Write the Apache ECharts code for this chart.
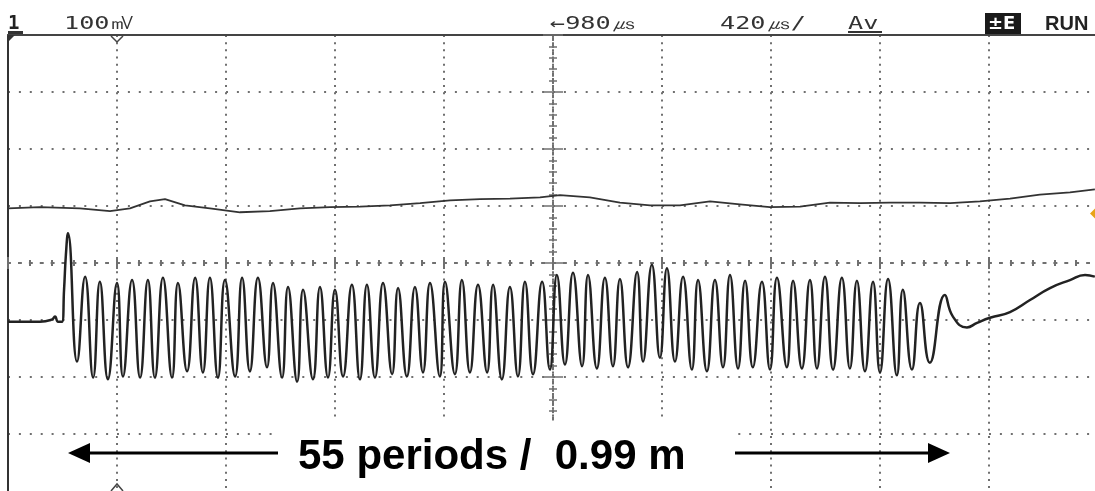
<!DOCTYPE html>
<html><head><meta charset="utf-8">
<script src="https://cdn.jsdelivr.net/npm/echarts@6/dist/echarts.min.js"></script>
<style>html,body{margin:0;padding:0;background:#fff;}#c{width:1095px;height:491px;}</style>
</head><body><div id="c"></div>
<script>
// ---- header / annotation texts ----
const channelLabel = '1';
const voltScaleLabel = '100㎷';
const delayLabel = '←980㎲';
const timebaseLabel = '420㎲/';
const modeLabel = 'Av';
const trigLabel = '±E';
const statusLabel = 'RUN';
const annotationLabel = '55 periods /  0.99 m';

// ---- axes: time in µs (420 µs/div, 10 div), voltage in mV (100 mV/div, 8 div) ----
const timeMin = 0, timeMax = 4200, timeDiv = 420;
const voltMin = -400, voltMax = 400, voltDiv = 100;
const triggerTime = 420;
const ch2LevelMark = 87;

// ---- channel 1 (lower trace): time µs / value mV ----
const ch1PreTime  = [0, 123, 170, 181, 193, 208, 216, 223, 231];
const ch1PreValue = [-103, -103, -99, -94, -103, -103, -47, 14, 52];
const ch1OscTime = [
  266,297,328,354,385,420,443,478,509,539,
  566,597,632,655,690,721,751,778,809,836,
  875,902,932,963,998,1021,1056,1079,1114,1137,
  1175,1202,1233,1260,1291,1325,1356,1383,1414,1445,
  1480,1503,1537,1568,1599,1626,1664,1684,1722,1749,
  1780,1811,1846,1869,1903,1934,1965,1992,2023,2058,
  2088,2115,2146,2177,2212,2235,2269,2300,2331,2358,
  2389,2424,2447,2481,2512,2539,2570,2601,2635,2659,
  2693,2724,2755,2782,2813,2840,2870,2905,2936,2963,
  3001,3025,3059,3090,3117,3148,3179,3213,3244,3271,
  3302,3333,3360,3391,3425,3448,3483,3514,3552,3610];
const ch1OscValue = [
  -173,-24,-201,-33,-204,-35,-199,-30,-201,-30,
  -201,-26,-201,-35,-190,-26,-192,-26,-201,-30,
  -199,-26,-190,-26,-183,-35,-201,-42,-208,-47,
  -204,-42,-201,-47,-199,-38,-204,-38,-201,-35,
  -195,-44,-199,-42,-192,-35,-199,-33,-195,-30,
  -192,-38,-192,-38,-204,-42,-199,-33,-195,-33,
  -187,-21,-178,-17,-181,-21,-185,-26,-181,-28,
  -183,-16,-173,-3,-166,-9,-173,-24,-187,-30,
  -190,-30,-183,-21,-185,-31,-183,-33,-187,-26,
  -183,-31,-185,-30,-185,-24,-187,-26,-185,-31,
  -190,-33,-192,-28,-197,-47,-187,-70,-175,-56];
const ch1TailTime  = [3641, 3695, 3734, 3784, 3861, 3938, 4015, 4092, 4150, 4188];
const ch1TailValue = [-94, -113, -105, -96, -86, -65, -44, -30, -21, -24];

// ---- channel 2 (upper trace) ----
const ch2Time = [0,123,277,393,470,547,605,682,778,894,1009,1125,1241,1356,1472,1588,1703,1819,1934,2050,
  2127,2242,2358,2474,2589,2705,2820,2936,3052,3167,3283,3398,3514,3630,3745,3861,3976,4092,4188];
const ch2Value = [96,98,96,91,96,108,112,101,96,89,91,96,98,99,101,105,110,112,113,115,
  119,115,106,101,101,108,103,98,99,106,105,106,106,105,108,113,120,124,129];

const zip = (a, b) => a.map((t, i) => [t, b[i]]);
const ch1Data = zip(ch1PreTime, ch1PreValue).concat(zip(ch1OscTime, ch1OscValue), zip(ch1TailTime, ch1TailValue));
const ch2Data = zip(ch2Time, ch2Value);

const gridColor = '#707070';
const dotsV = [2, 5.16];
const dotsH = [2, 8.9];
const noLbl = {show: false};

const chart = echarts.init(document.getElementById('c'), null, {renderer: 'canvas'});
const baseX = {type: 'value', min: timeMin, max: timeMax, interval: timeDiv, axisLabel: noLbl, splitLine: {show: false}, axisTick: {show: false}};
const baseY = {type: 'value', min: voltMin, max: voltMax, interval: voltDiv, axisLabel: noLbl, splitLine: {show: false}, axisTick: {show: false}};

const option = {
  animation: false,
  backgroundColor: '#ffffff',
  grid: {left: 8, top: 35, width: 1090, height: 456, containLabel: false, outerBoundsMode: 'none'},
  xAxis: [
    Object.assign({}, baseX, {position: 'bottom', axisLine: {onZero: false, lineStyle: {color: '#b0b0b0', width: 1}},
      splitLine: {show: true, showMinLine: false, showMaxLine: false, lineStyle: {color: gridColor, width: 2, type: dotsV}}}),
    Object.assign({}, baseX, {position: 'top', axisLine: {onZero: false, lineStyle: {color: '#444', width: 2}}}),
    Object.assign({}, baseX, {position: 'bottom', axisLine: {onZero: true, onZeroAxisIndex: 0, lineStyle: {color: gridColor, width: 2, type: dotsH}},
      axisTick: {show: true, length: 6, lineStyle: {color: gridColor, width: 2}},
      minorTick: {show: true, splitNumber: 5, length: 3, lineStyle: {color: gridColor, width: 2}}}),
    Object.assign({}, baseX, {position: 'top', axisLine: {onZero: true, onZeroAxisIndex: 0, lineStyle: {color: gridColor, width: 2, type: dotsH}},
      axisTick: {show: true, length: 6, lineStyle: {color: gridColor, width: 2}},
      minorTick: {show: true, splitNumber: 5, length: 3, lineStyle: {color: gridColor, width: 2}}}),
    {type: 'value', min: -(timeMax - timeMin) / 2, max: (timeMax - timeMin) / 2, show: false, splitLine: {show: false}}
  ],
  yAxis: [
    Object.assign({}, baseY, {position: 'left', axisLine: {onZero: false, lineStyle: {color: '#333', width: 2}},
      splitLine: {show: true, showMinLine: false, showMaxLine: false, lineStyle: {color: gridColor, width: 2, type: dotsH}}}),
    Object.assign({}, baseY, {position: 'left', axisLine: {onZero: true, onZeroAxisIndex: 4, lineStyle: {color: gridColor, width: 2, type: dotsV}},
      axisTick: {show: true, length: 10, lineStyle: {color: gridColor, width: 1.5}},
      minorTick: {show: true, splitNumber: 5, length: 4, lineStyle: {color: gridColor, width: 1.5}}}),
    Object.assign({}, baseY, {position: 'right', axisLine: {onZero: true, onZeroAxisIndex: 4, lineStyle: {color: gridColor, width: 2, type: dotsV}},
      axisTick: {show: true, length: 10, lineStyle: {color: gridColor, width: 1.5}},
      minorTick: {show: true, splitNumber: 5, length: 4, lineStyle: {color: gridColor, width: 1.5}}})
  ],
  series: [
    {type: 'line', name: 'CH1', xAxisIndex: 0, yAxisIndex: 0, data: ch1Data, symbol: 'none', smooth: 0.5,
      lineStyle: {color: '#222222', width: 2.5}, z: 5},
    {type: 'line', name: 'CH2', xAxisIndex: 0, yAxisIndex: 0, data: ch2Data, symbol: 'none', smooth: false,
      lineStyle: {color: '#333333', width: 1.8}, z: 5}
  ]
};
chart.setOption(option);

const hdrFont = '18px "DejaVu Sans Mono"';
const trigPx = chart.convertToPixel({xAxisIndex: 0}, triggerTime);
const ch2MarkPy = chart.convertToPixel({yAxisIndex: 0}, ch2LevelMark);
const rightPx = chart.convertToPixel({xAxisIndex: 0}, timeMax) - 3;

chart.setOption({
  graphic: [
    // header
    {type: 'text', x: 8, y: 24, z: 20, style: {text: channelLabel, font: 'bold 19px "DejaVu Sans Mono"', fill: '#222', verticalAlign: 'middle'}},
    {type: 'rect', x: 8, y: 31, z: 20, shape: {width: 15, height: 3}, style: {fill: '#333'}},
    {type: 'text', x: 64, y: 24, scaleX: 1.4, z: 20, style: {text: voltScaleLabel, font: hdrFont, fill: '#333', verticalAlign: 'middle'}},
    {type: 'text', x: 550, y: 24, scaleX: 1.4, z: 20, style: {text: delayLabel, font: hdrFont, fill: '#333', verticalAlign: 'middle'}},
    {type: 'text', x: 720, y: 24, scaleX: 1.4, z: 20, style: {text: timebaseLabel, font: hdrFont, fill: '#333', verticalAlign: 'middle'}},
    {type: 'text', x: 848, y: 24, scaleX: 1.4, z: 20, style: {text: modeLabel, font: hdrFont, fill: '#333', verticalAlign: 'middle'}},
    {type: 'rect', x: 848, y: 31, z: 20, shape: {width: 34, height: 2}, style: {fill: '#333'}},
    {type: 'rect', x: 985, y: 13, z: 20, shape: {width: 36, height: 21}, style: {fill: '#1a1a1a'}},
    {type: 'text', x: 988, y: 24, z: 21, style: {text: trigLabel, font: 'bold 18px "DejaVu Sans"', fill: '#fff', verticalAlign: 'middle'}},
    {type: 'text', x: 1045, y: 24, z: 20, style: {text: statusLabel, font: 'bold 20px "Liberation Sans"', fill: '#222', verticalAlign: 'middle'}},
    // corner + markers
    {type: 'polygon', z: 20, shape: {points: [[8, 35], [15, 35], [8, 42]]}, style: {fill: '#333'}},
    {type: 'polyline', z: 20, shape: {points: [[trigPx - 6, 36], [trigPx, 42], [trigPx + 6, 36]]}, style: {stroke: '#444', lineWidth: 1.5, fill: null}},
    {type: 'polyline', z: 20, shape: {points: [[trigPx - 6, 491], [trigPx, 484], [trigPx + 6, 491]]}, style: {stroke: '#444', lineWidth: 1.5, fill: null}},
    {type: 'polygon', z: 20, shape: {points: [[rightPx - 5, ch2MarkPy], [rightPx + 1, ch2MarkPy - 6], [rightPx + 7, ch2MarkPy], [rightPx + 1, ch2MarkPy + 6]]}, style: {fill: '#e8a317'}},
    // annotation
    {type: 'rect', x: 274, y: 421, z: 20, shape: {width: 456, height: 70}, style: {fill: '#fff'}},
    {type: 'text', x: 298, y: 457, z: 21, style: {text: annotationLabel, font: 'bold 42px "Liberation Sans"', fill: '#000', verticalAlign: 'middle'}},
    {type: 'line', z: 21, shape: {x1: 86, y1: 453, x2: 278, y2: 453}, style: {stroke: '#000', lineWidth: 3}},
    {type: 'polygon', z: 21, shape: {points: [[68, 453], [90, 443], [90, 463]]}, style: {fill: '#000'}},
    {type: 'line', z: 21, shape: {x1: 735, y1: 453, x2: 932, y2: 453}, style: {stroke: '#000', lineWidth: 3}},
    {type: 'polygon', z: 21, shape: {points: [[950, 453], [928, 443], [928, 463]]}, style: {fill: '#000'}}
  ]
});
</script>
</body></html>
